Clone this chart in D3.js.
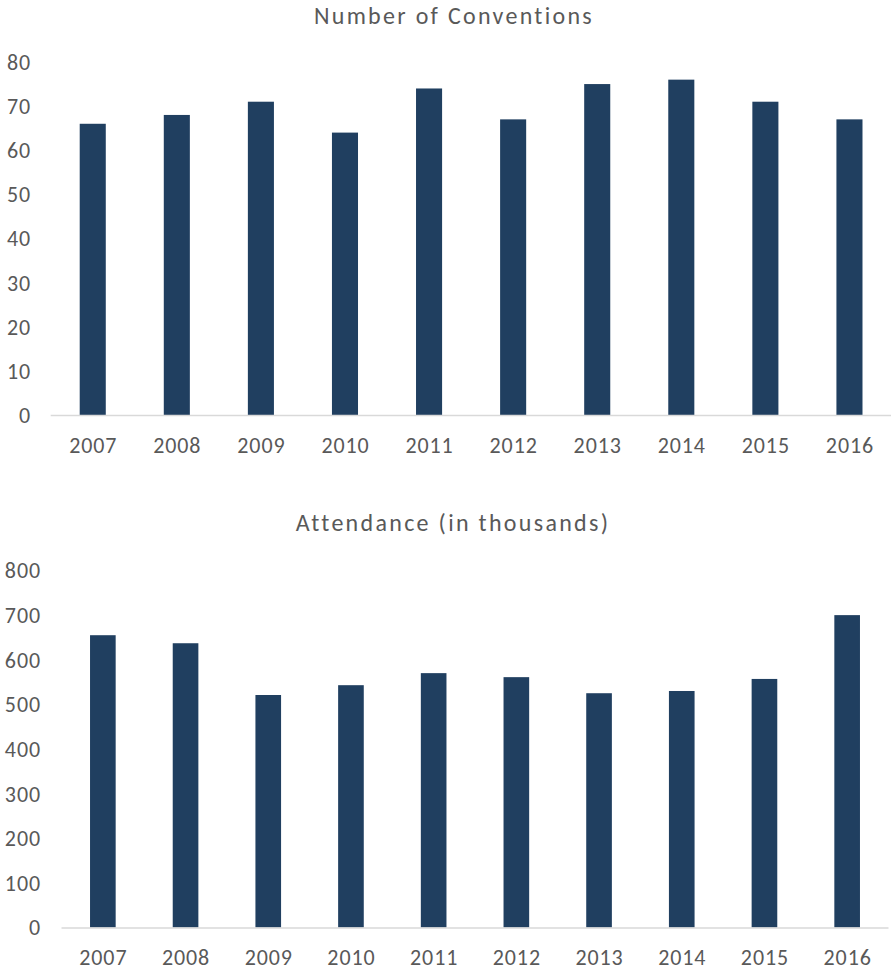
<!DOCTYPE html>
<html><head><meta charset="utf-8">
<script src="https://cdn.jsdelivr.net/npm/d3@7"></script>
<style>
html,body{margin:0;padding:0;background:#fff;}
svg text{font-family:Carlito,Lato,"Open Sans",sans-serif;fill:#595959;}
</style></head>
<body>
<svg id="c" width="891" height="972"></svg>
<script>
const years = ["2007","2008","2009","2010","2011","2012","2013","2014","2015","2016"];
const conventions = [66, 68, 71, 64, 74, 67, 75, 76, 71, 67];
const attendance = [655, 637, 521, 543, 570, 561, 525, 530, 557, 700];
const convTicks = [0,10,20,30,40,50,60,70,80];
const attTicks = [0,100,200,300,400,500,600,700,800];
const titles = ["Number of Conventions", "Attendance (in thousands)"];

const svg = d3.select("#c");
const barColor = "#203f60";

function drawChart(cfg) {
  const g = svg.append("g");
  const x = d3.scaleBand().domain(years).range([cfg.x0, cfg.x1]).paddingInner(0.69).paddingOuter(0.345);
  const y = d3.scaleLinear().domain([0, cfg.max]).range([cfg.y0, cfg.yTop]);

  g.append("text").attr("x", cfg.titleX).attr("y", cfg.titleY).attr("text-anchor","middle")
    .style("font-size","24px").style("letter-spacing","2.3px").text(cfg.title);

  g.selectAll(".yt").data(cfg.ticks).enter().append("text")
    .attr("x", cfg.labelRight + 1).attr("y", d => y(d)).attr("dy","0.36em")
    .attr("text-anchor","end").style("font-size","22px").style("letter-spacing","0.9px").text(d => d);

  g.selectAll(".bar").data(cfg.values).enter().append("rect")
    .attr("x",(d,i)=>x(years[i])).attr("width",x.bandwidth())
    .attr("y",d=>y(d)).attr("height",d=>y(0)-y(d)).attr("fill",barColor);

  g.append("line").attr("x1",cfg.x0).attr("x2",cfg.x1).attr("y1",y(0)+0.5).attr("y2",y(0)+0.5)
    .attr("stroke","#d9d9d9").attr("stroke-width",1.5);

  g.selectAll(".xt").data(years).enter().append("text")
    .attr("x", d => x(d)+x.bandwidth()/2 + 0.5).attr("y", cfg.xLabelY)
    .attr("text-anchor","middle").style("font-size","22px").style("letter-spacing","0.9px").text(d=>d);
}

drawChart({title:titles[0], values:conventions, ticks:convTicks, max:80,
  x0:50.7, x1:891.5, y0:415, yTop:62, labelRight:30, titleX:454, titleY:24, xLabelY:453});
drawChart({title:titles[1], values:attendance, ticks:attTicks, max:800,
  x0:61.5, x1:888.5, y0:927.5, yTop:570.5, labelRight:40, titleX:453, titleY:531, xLabelY:965});
</script>
</body></html>
